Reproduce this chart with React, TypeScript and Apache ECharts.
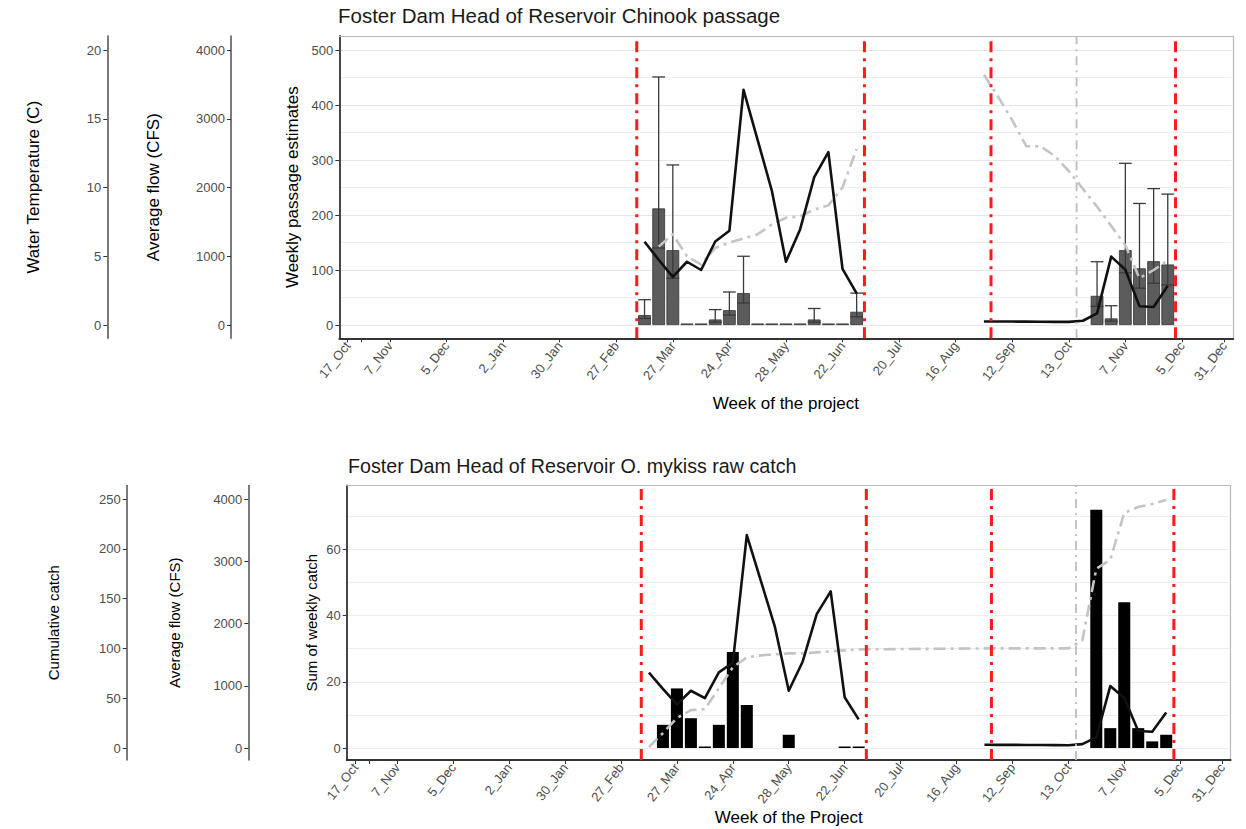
import { useEffect, useRef } from 'react';
import * as echarts from 'echarts';

const FONT = "'Liberation Sans', Arial, sans-serif";

// ---------------- shared week axis ----------------
const NSLOTS = 63;
const slotNames = Array.from({ length: NSLOTS }, (_, i) => String(i));
const tickWeeks = [0, 1, 3, 7, 11, 15, 19, 23, 27, 31, 35, 39, 43, 47, 51, 55, 59, 62];
const tickLabels = ['17_Oct', '', '7_Nov', '5_Dec', '2_Jan', '30_Jan', '27_Feb', '27_Mar', '24_Apr', '28_May', '22_Jun', '20_Jul', '16_Aug', '12_Sep', '13_Oct', '7_Nov', '5_Dec', '31_Dec'];

// season start/end markers (red) and year marker (grey), in week units
const seasonMarkers = [20.45, 36.55, 45.5, 58.55];
const yearMarker = [51.55];

// ---------------- top chart: Chinook passage ----------------
const passageWeeks = [21, 22, 23, 24, 25, 26, 27, 28, 29, 30, 31, 32, 33, 34, 35, 36, 53, 54, 55, 56, 57, 58];
const passageEst = [18, 212, 136, 0, 0, 10, 27, 58, 0, 0, 0, 0, 10, 0, 0, 24, 53, 12, 136, 103, 116, 110];

const errWeeks = [21, 22, 23, 26, 27, 28, 33, 36, 53, 54, 55, 56, 57, 58];
const errLow = [12, 140, 85, 5, 18, 40, 5, 15, 34, 7, 95, 67, 76, 73];
const errHigh = [46, 451, 291, 28, 60, 125, 30, 58, 115, 35, 294, 221, 248, 238];

// average flow (CFS)
const flowSpringWeeks = [21, 22, 23, 24, 25, 26, 27, 28, 29, 30, 31, 32, 33, 34, 35, 36];
const flowSpring = [1210, 950, 700, 920, 800, 1215, 1370, 3420, 2690, 1955, 920, 1390, 2150, 2515, 815, 460];
const flowFallWeeks = [45, 46, 47, 48, 49, 50, 51, 52, 53, 54, 55, 56, 57, 58];
const flowFall = [52, 50, 50, 49, 48, 46, 45, 62, 170, 995, 805, 272, 262, 572];

// water temperature (C)
const tempSpringWeeks = [22, 23, 24, 25, 26, 27, 28, 29, 30, 31, 32, 33, 34, 35, 36];
const tempSpring = [5.7, 6.6, 5.0, 4.4, 5.6, 6.0, 6.3, 6.6, 7.3, 7.8, 7.9, 8.4, 8.7, 10.0, 12.8];
const tempFallWeeks = [45, 46, 47, 48, 49, 50, 51, 52, 53, 54, 55, 56, 57, 58];
const tempFall = [18.2, 16.6, 14.9, 13.0, 13.0, 12.3, 11.2, 9.9, 8.6, 7.2, 5.8, 3.4, 4.0, 4.7];

// ---------------- bottom chart: O. mykiss raw catch ----------------
const catchWeeks = [22, 23, 24, 25, 26, 27, 28, 31, 35, 36, 53, 54, 55, 56, 57, 58];
const catchValues = [7, 18, 9, 0, 7, 29, 13, 4, 0, 0, 72, 6, 44, 6, 2, 4];

const cumWeeks = [21, 22, 23, 24, 25, 26, 27, 28, 29, 30, 31, 32, 33, 34, 35, 36, 45, 46, 47, 48, 49, 50, 51, 52, 53, 54, 55, 56, 57, 58];
const cumValues = [1, 15, 30, 38, 39, 60, 81, 91, 93, 94, 95, 95, 96, 97, 98, 99, 100, 100, 100, 100, 100, 100, 100, 108, 180, 189, 236, 242, 245, 249];

// ---------------- layout ----------------
const G1 = { pL: 339.3, pR: 1233.3, pT: 36, pB: 338.3, dL: 340.5, dR: 1231.4, y0: 325, yTop: 50, tempX: 107.3, flowX: 231 };
const G2 = { pL: 346.7, pR: 1230.7, pT: 485.5, pB: 760, dL: 348.4, dR: 1229.1, y0: 748, yTop: 499, catchPx: 3.31, cumX: 126.7, flowX: 248.3 };

const labelOf = (i: number) => {
  const k = tickWeeks.indexOf(i);
  return k >= 0 ? tickLabels[k] : '';
};
const pairs = (xs: number[], ys: number[]) => xs.map((x, k) => [x, ys[k]]);

const DARK = '#333333';
const LIGHT = '#b8b8b8';
const TICKLBL = '#4d4d4d';
const AXGRAY = '#5a5a5a';

function panelRange(g: any) {
  const cw = (g.dR - g.dL) / NSLOTS;
  return { min: -0.5 - (g.dL - g.pL) / cw, max: NSLOTS - 0.5 + (g.pR - g.dR) / cw };
}

function decorX(gridIndex: number, g: any, position: string, color: string, width: number) {
  const r = panelRange(g);
  return {
    gridIndex, type: 'value', min: r.min, max: r.max, position,
    axisLine: { show: true, onZero: false, lineStyle: { color, width } },
    axisTick: { show: false }, axisLabel: { show: false }, splitLine: { show: false },
  };
}

function decorY(gridIndex: number, position: string, offset: number, color: string, width: number, name?: string, nameGap?: number, fontSize?: number) {
  return {
    gridIndex, type: 'value', min: 0, max: 1, position, offset,
    axisLine: { show: true, onZero: false, lineStyle: { color, width } },
    axisTick: { show: false }, axisLabel: { show: false }, splitLine: { show: false },
    name: name || '', nameLocation: 'middle', nameGap: nameGap || 0, nameRotate: 90,
    nameTextStyle: { color: '#000', fontSize: fontSize || 16, fontFamily: FONT },
  };
}

function catX(gridIndex: number, offset: number, show: boolean, name?: string, nameGap?: number) {
  return {
    gridIndex, type: 'category', data: slotNames, boundaryGap: true, position: 'bottom', offset, show,
    axisLine: { show: false, onZero: false },
    axisTick: {
      show: true, alignWithLabel: true, length: 4,
      interval: (i: number) => tickWeeks.indexOf(i) >= 0,
      lineStyle: { color: DARK, width: 1 },
    },
    axisLabel: {
      interval: (i: number) => labelOf(i) !== '',
      formatter: (_v: string, i: number) => labelOf(i),
      rotate: 52, color: TICKLBL, fontSize: 13, margin: 5, fontFamily: FONT,
      overflow: 'none', hideOverlap: false,
    },
    splitLine: { show: false },
    name: name || '', nameLocation: 'middle', nameGap: nameGap || 0,
    nameTextStyle: { color: '#000', fontSize: 17, fontFamily: FONT },
  };
}

function valY(gridIndex: number, min: number, max: number, interval: number, offset: number, extra: any = {}) {
  return {
    gridIndex, type: 'value', min, max, interval, position: 'left', offset,
    axisLine: { show: false, onZero: false },
    axisTick: { show: true, length: 4, lineStyle: { color: DARK, width: 1 } },
    axisLabel: { color: TICKLBL, fontSize: 13, margin: 6, fontFamily: FONT, formatter: (v: number) => String(v) },
    splitLine: { show: false },
    ...extra,
  };
}

function lineSeries(xIdx: number, yIdx: number, xs: number[], ys: number[], color: string, width: number, dash: any) {
  return {
    type: 'line', xAxisIndex: xIdx, yAxisIndex: yIdx, data: pairs(xs, ys), symbol: 'none',
    lineStyle: { color, width, type: dash, cap: 'butt', join: 'round' },
    z: 4, silent: true, clip: false,
  };
}

function vline(xIdx: number, yIdx: number, x: number, color: string, width: number, dash: any) {
  return {
    type: 'line', xAxisIndex: xIdx, yAxisIndex: yIdx, data: [[x, 0], [x, 1]], symbol: 'none',
    lineStyle: { color, width, type: dash, cap: 'butt' }, z: 6, silent: true, clip: false,
  };
}

const RED_DASH = [11, 6, 3, 6];
const GREY_VDASH = [9, 5, 2, 5];
const TEMP_DASH = [12, 5, 3, 5];

function buildOption() {
  const catchTop60 = G2.y0 - 60 * G2.catchPx;
  const catchTop70 = G2.y0 - 70 * G2.catchPx;

  const grid = [
    { left: G1.pL, top: G1.pT, width: G1.pR - G1.pL, height: G1.pB - G1.pT },
    { left: G1.dL, top: G1.yTop, width: G1.dR - G1.dL, height: G1.y0 - G1.yTop },
    { left: G2.pL, top: G2.pT, width: G2.pR - G2.pL, height: G2.pB - G2.pT },
    { left: G2.dL, top: G2.yTop, width: G2.dR - G2.dL, height: G2.y0 - G2.yTop },
    { left: G2.dL, top: catchTop60, width: G2.dR - G2.dL, height: G2.y0 - catchTop60 },
    { left: G2.dL, top: catchTop70, width: G2.dR - G2.dL, height: G2.y0 - catchTop70 },
  ].map((g) => ({ ...g, containLabel: false, outerBoundsMode: 'none', show: false }));

  const xAxis = [
    decorX(0, G1, 'bottom', DARK, 1.8), // 0
    decorX(0, G1, 'top', LIGHT, 1.2), // 1
    catX(1, G1.pB - G1.y0, true, 'Week of the project', 57), // 2
    decorX(2, G2, 'bottom', DARK, 1.8), // 3
    decorX(2, G2, 'top', LIGHT, 1.2), // 4
    catX(3, G2.pB - G2.y0, true, 'Week of the Project', 49), // 5
    catX(4, 0, false), // 6
    catX(5, 0, false), // 7
  ];

  const yAxis = [
    decorY(0, 'left', 0, DARK, 1.8, 'Weekly passage estimates', 38, 17), // 0
    decorY(0, 'right', 0, LIGHT, 1.2), // 1
    decorY(0, 'left', G1.pL - G1.tempX, AXGRAY, 1.6, 'Water Temperature (C)', 65, 17), // 2
    decorY(0, 'left', G1.pL - G1.flowX, AXGRAY, 1.6, 'Average flow (CFS)', 69, 17), // 3
    valY(1, 0, 500, 100, G1.dL - G1.pL, {
      splitLine: { show: true, lineStyle: { color: '#e6e6e6', width: 1 } },
      minorTick: { show: false, splitNumber: 2 },
      minorSplitLine: { show: true, lineStyle: { color: '#efefef', width: 1 } },
    }), // 4 passage
    valY(1, 0, 4000, 1000, G1.dL - G1.flowX), // 5 flow
    valY(1, 0, 20, 5, G1.dL - G1.tempX), // 6 temp
    decorY(2, 'left', 0, DARK, 1.8, 'Sum of weekly catch', 28, 15), // 7
    decorY(2, 'right', 0, LIGHT, 1.2), // 8
    decorY(2, 'left', G2.pL - G2.cumX, AXGRAY, 1.6, 'Cumulative catch', 66, 15), // 9
    decorY(2, 'left', G2.pL - G2.flowX, AXGRAY, 1.6, 'Average flow (CFS)', 66, 15), // 10
    valY(3, 0, 4000, 1000, G2.dL - G2.flowX), // 11 flow
    valY(3, 0, 250, 50, G2.dL - G2.cumX), // 12 cumulative
    valY(4, 0, 60, 20, G2.dL - G2.pL), // 13 catch labels
    valY(5, 0, 70, 10, 0, {
      axisTick: { show: false }, axisLabel: { show: false },
      splitLine: { show: true, lineStyle: { color: '#ececec', width: 1 } },
    }), // 14 catch gridlines
  ];

  const series: any[] = [
    // ---- top ----
    {
      type: 'bar', xAxisIndex: 2, yAxisIndex: 4, data: pairs(passageWeeks, passageEst),
      barWidth: '90%', barMinHeight: 1.5, silent: true, z: 2,
      itemStyle: { color: '#5c5c5c', borderColor: '#333', borderWidth: 0.8 },
    },
    {
      type: 'custom', xAxisIndex: 2, yAxisIndex: 4, z: 3, silent: true, clip: false,
      data: errWeeks.map((w, k) => [w, errLow[k], errHigh[k]]),
      encode: { x: 0, y: [1, 2] },
      renderItem: (_p: any, api: any) => {
        const x = api.value(0);
        const lo = api.coord([x, api.value(1)]);
        const hi = api.coord([x, api.value(2)]);
        const half = api.size([1, 0])[0] * 0.45;
        const style = { stroke: '#3a3a3a', lineWidth: 1.3 };
        return {
          type: 'group',
          children: [
            { type: 'line', shape: { x1: hi[0], y1: hi[1], x2: lo[0], y2: lo[1] }, style },
            { type: 'line', shape: { x1: hi[0] - half, y1: hi[1], x2: hi[0] + half, y2: hi[1] }, style },
            { type: 'line', shape: { x1: lo[0] - half, y1: lo[1], x2: lo[0] + half, y2: lo[1] }, style },
          ],
        };
      },
    },
    lineSeries(2, 6, tempSpringWeeks, tempSpring, '#c4c4c4', 2.6, TEMP_DASH),
    lineSeries(2, 6, tempFallWeeks, tempFall, '#c4c4c4', 2.6, TEMP_DASH),
    lineSeries(2, 5, flowSpringWeeks, flowSpring, '#111', 2.6, 'solid'),
    lineSeries(2, 5, flowFallWeeks, flowFall, '#111', 2.6, 'solid'),
    ...seasonMarkers.map((m) => vline(0, 0, m, '#ff1a1a', 3, RED_DASH)),
    ...yearMarker.map((m) => vline(0, 0, m, '#bdbdbd', 1.8, GREY_VDASH)),
    // ---- bottom ----
    {
      type: 'bar', xAxisIndex: 7, yAxisIndex: 14, data: pairs(catchWeeks, catchValues),
      barWidth: '86%', barMinHeight: 1.5, silent: true, z: 2, clip: false,
      itemStyle: { color: '#000' },
    },
    lineSeries(5, 12, cumWeeks, cumValues, '#c4c4c4', 2.6, TEMP_DASH),
    lineSeries(5, 11, flowSpringWeeks, flowSpring, '#111', 2.6, 'solid'),
    lineSeries(5, 11, flowFallWeeks, flowFall, '#111', 2.6, 'solid'),
    ...seasonMarkers.map((m) => vline(3, 7, m, '#ff1a1a', 3, RED_DASH)),
    ...yearMarker.map((m) => vline(3, 7, m, '#bdbdbd', 1.8, GREY_VDASH)),
  ];

  return {
    animation: false,
    backgroundColor: '#fff',
    textStyle: { fontFamily: FONT },
    title: [
      { text: 'Foster Dam Head of Reservoir Chinook passage', left: 338, top: 5, padding: 0,
        textStyle: { fontSize: 20.5, fontWeight: 'normal', color: '#1a1a1a', fontFamily: FONT } },
      { text: 'Foster Dam Head of Reservoir O. mykiss raw catch', left: 348, top: 456, padding: 0,
        textStyle: { fontSize: 19.7, fontWeight: 'normal', color: '#1a1a1a', fontFamily: FONT } },
    ],
    grid, xAxis, yAxis, series,
  };
}

export default function App() {
  const ref = useRef<HTMLDivElement>(null);
  useEffect(() => {
    const chart = echarts.init(ref.current as HTMLDivElement, null, { renderer: 'svg' });
    chart.setOption(buildOption() as any);
    return () => chart.dispose();
  }, []);
  return (
    <div
      ref={ref}
      style={{ position: 'fixed', left: 0, top: 0, width: 1246, height: 829, background: '#fff' }}
    />
  );
}
